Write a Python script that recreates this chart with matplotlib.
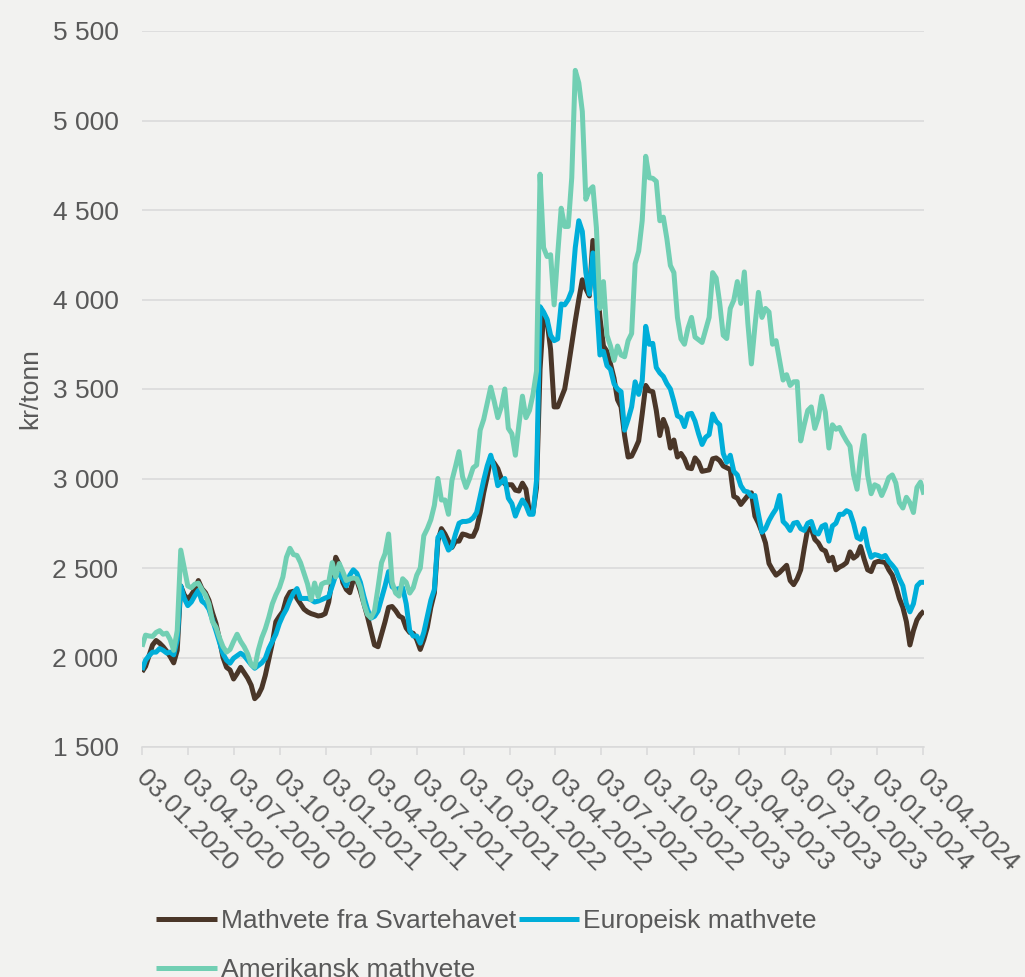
import pandas as pd
import matplotlib
matplotlib.use("Agg")
import matplotlib.pyplot as plt
import matplotlib.dates as mdates
import matplotlib.transforms as mtransforms
from matplotlib.ticker import FuncFormatter

# weekly prices, kr/tonn, first week 03.01.2020
start_date = "2020-01-03"

svartehavet = [
    1920, 1950, 2010, 2070, 2095, 2080, 2060, 2035, 2005, 1970, 2040, 2400, 2350,
    2325, 2350, 2380, 2430, 2385, 2362, 2320, 2250, 2190, 2100, 2000, 1945, 1930,
    1880, 1910, 1945, 1915, 1885, 1845, 1770, 1790, 1830, 1900, 1990, 2080, 2200,
    2230, 2257, 2330, 2365, 2370, 2330, 2300, 2270, 2255, 2245, 2239, 2232, 2235,
    2245, 2310, 2440, 2560, 2520, 2420, 2380, 2362, 2435, 2430, 2370, 2300, 2230,
    2150, 2070, 2060, 2130, 2200, 2280, 2285, 2262, 2232, 2221, 2165, 2140, 2135,
    2100, 2045, 2100, 2170, 2280, 2360, 2650, 2720, 2690, 2650, 2615, 2650, 2650,
    2690, 2685, 2677, 2677, 2720, 2810, 2920, 3010, 3110, 3085, 3055, 3000, 2970,
    2965, 2965, 2935, 2930, 2974, 2940, 2810, 2810, 2950, 3610, 3920, 3880, 3720,
    3400, 3400, 3450, 3500, 3620, 3750, 3880, 4000, 4110, 4060, 4020, 4330, 4130,
    3900, 3740, 3710, 3640, 3560, 3440, 3400, 3240, 3120, 3125, 3165, 3210, 3360,
    3520, 3490, 3485, 3380, 3240, 3330, 3280, 3170, 3215, 3120, 3140, 3110, 3060,
    3055, 3115, 3090, 3040, 3044, 3048, 3110, 3115, 3100, 3070, 3060, 3050, 2900,
    2890, 2855, 2880, 2905, 2920, 2790, 2750, 2700, 2640, 2525, 2490, 2460, 2475,
    2495, 2515, 2430, 2407, 2440, 2490, 2610, 2720, 2720, 2660, 2640, 2605, 2595,
    2540, 2560, 2490, 2505, 2515, 2530, 2590, 2555, 2570, 2620, 2550, 2490, 2480,
    2530, 2537, 2535, 2530, 2490, 2460, 2400, 2330, 2280, 2200, 2070, 2150, 2210,
    2240, 2260,
]

europeisk = [
    1930, 1985, 2010, 2030, 2030, 2050, 2040, 2025, 2030, 2015, 2100, 2400, 2330,
    2290, 2310, 2345, 2375, 2315, 2300, 2270, 2210, 2150, 2085, 2020, 1985, 1968,
    1996, 2010, 2024, 2010, 1985, 1960, 1940, 1955, 1970, 1995, 2050, 2090, 2130,
    2190, 2235, 2270, 2320, 2360, 2385, 2330, 2330, 2330, 2323, 2310, 2315, 2323,
    2332, 2340, 2400, 2460, 2465, 2440, 2400, 2460, 2490, 2470, 2420, 2340, 2270,
    2220, 2230, 2260, 2330, 2400, 2480, 2395, 2380, 2385, 2390, 2300, 2150, 2120,
    2120, 2080, 2140, 2230, 2320, 2380, 2670, 2700, 2650, 2600, 2620, 2690, 2750,
    2760, 2760, 2765, 2780, 2810, 2900, 2990, 3070, 3130, 3060, 2960, 2980, 3000,
    2890, 2860, 2790, 2840, 2880, 2850, 2800, 2800, 2990, 3960, 3930, 3890, 3800,
    3770, 3780, 3975, 3970, 4000, 4050, 4290, 4440, 4380, 4150, 4030, 4260, 4000,
    3690, 3710, 3630, 3610, 3530, 3500, 3485, 3270, 3330, 3400, 3540, 3470, 3545,
    3850, 3750, 3755, 3620, 3590, 3570, 3530, 3500, 3430, 3350, 3340, 3290, 3360,
    3364, 3320, 3250, 3190, 3230, 3245, 3360, 3320, 3300, 3140, 3090, 3130, 3040,
    3020, 2960, 2930, 2925, 2900, 2905, 2800, 2700, 2720, 2765, 2800, 2830, 2905,
    2760, 2740, 2710, 2750, 2755, 2720, 2710, 2750, 2760, 2700, 2690, 2732, 2742,
    2650, 2735, 2750, 2800, 2800, 2820, 2810, 2750, 2670, 2660, 2720, 2620, 2560,
    2575, 2570, 2560, 2570, 2537, 2515, 2490, 2440, 2400, 2300, 2255, 2300, 2400,
    2420, 2420,
]

amerikansk = [
    2060, 2125, 2120, 2118, 2140, 2150, 2130, 2136, 2100, 2040, 2150, 2600, 2500,
    2400, 2390, 2410, 2415, 2380, 2350, 2300, 2200, 2170, 2110, 2060, 2030, 2045,
    2090, 2130, 2090, 2060, 2020, 1960, 1945, 2040, 2110, 2160, 2225, 2300, 2350,
    2390, 2450, 2560, 2610, 2575, 2570, 2530, 2470, 2410, 2323, 2416, 2340, 2410,
    2420, 2420, 2530, 2450, 2525, 2480, 2430, 2440, 2444, 2440, 2390, 2300, 2240,
    2222, 2260, 2390, 2530, 2580, 2690, 2420, 2360, 2343, 2440, 2420, 2360, 2390,
    2460, 2500, 2680, 2720, 2770, 2850, 3000, 2880, 2880, 2800, 2990, 3067, 3150,
    3010, 2950, 3000, 3060, 3075, 3270, 3330, 3420, 3510, 3430, 3340, 3400, 3500,
    3280, 3250, 3130, 3300, 3460, 3340, 3380, 3470, 3600, 4700, 4290, 4240, 4250,
    3970, 4250, 4510, 4408, 4408, 4680, 5280, 5210, 5050, 4560, 4610, 4630, 4400,
    3950, 4100, 3800, 3740, 3660, 3740, 3690, 3680, 3770, 3810, 4200, 4270, 4440,
    4800, 4680, 4677, 4660, 4440, 4460, 4340, 4190, 4150, 3900, 3780, 3750, 3840,
    3900, 3790, 3775, 3760, 3830, 3900, 4150, 4120, 3980, 3800, 3782, 3950, 3996,
    4100, 3978, 4154, 3866, 3640, 3850, 4040, 3900, 3950, 3930, 3750, 3770, 3660,
    3550, 3580, 3520, 3540, 3541, 3210, 3300, 3380, 3400, 3280, 3340, 3460, 3370,
    3170, 3300, 3275, 3285, 3245, 3210, 3180, 3020, 2940, 3120, 3240, 3020, 2915,
    2965, 2955, 2905, 2950, 3005, 3020, 2975, 2865, 2835, 2895, 2865, 2810, 2950,
    2980, 2910,
]

labels = ["Mathvete fra Svartehavet", "Europeisk mathvete", "Amerikansk mathvete"]
colors = ["#4A3628", "#00AED9", "#71CFB3"]

dates = pd.date_range(start_date, periods=len(svartehavet), freq="7D")
tick_dates = pd.date_range(start_date, periods=18, freq=pd.DateOffset(months=3))

bg = "#F2F2F0"
grey_text = "#595959"
grid_col = "#D9D9D9"

plt.rcParams["font.family"] = ["Liberation Sans", "DejaVu Sans"]
plt.rcParams["font.size"] = 19

fig = plt.figure(figsize=(10.25, 9.77), dpi=100, facecolor=bg)
ax = fig.add_axes([142 / 1025, 1 - 747 / 977, 782 / 1025, 716 / 977])
ax.set_facecolor(bg)

lines = []
for vals, lab, col in zip([svartehavet, europeisk, amerikansk], labels, colors):
    ln, = ax.plot(dates, vals, color=col, lw=3.6, label=lab,
                  solid_joinstyle="round", solid_capstyle="butt")
    lines.append(ln)

ax.set_ylim(1500, 5500)
ax.set_yticks(range(1500, 5501, 500))
ax.yaxis.set_major_formatter(FuncFormatter(lambda v, p: f"{int(v):,}".replace(",", " ")))
ax.set_xlim(dates[0], dates[-1])
ax.set_xticks(tick_dates)
ax.xaxis.set_major_formatter(mdates.DateFormatter("%d.%m.%Y"))

ax.grid(axis="y", color=grid_col, lw=1.1)
ax.set_axisbelow(True)
for s in ["top", "right", "left"]:
    ax.spines[s].set_visible(False)
ax.spines["bottom"].set_color(grid_col)
ax.spines["bottom"].set_linewidth(1.1)

ax.tick_params(axis="y", length=0, pad=17, labelcolor=grey_text)
ax.tick_params(axis="x", length=6, width=1.1, color=grid_col, pad=4, labelcolor=grey_text)
shift = mtransforms.ScaledTranslation(0.06, -0.05, fig.dpi_scale_trans)
for t in ax.get_xticklabels():
    t.set_rotation(-45)
    t.set_rotation_mode("anchor")
    t.set_ha("left")
    t.set_va("top")
    t.set_transform(t.get_transform() + shift)

ax.set_ylabel("kr/tonn", color=grey_text)
ax.yaxis.set_label_coords(-0.128, 0.5)

# legend: two columns, third entry wraps to second row
order = [0, 2, 1]
fig.legend([lines[i] for i in order], [labels[i] for i in order],
           loc="upper left", bbox_to_anchor=(156 / 1025, 1 - 909 / 977),
           ncol=2, frameon=False, handlelength=2.3, handletextpad=0.15,
           columnspacing=0.1, labelspacing=0.95, borderpad=0, borderaxespad=0,
           labelcolor=grey_text)

fig.savefig("out.png", dpi=100, facecolor=bg)
